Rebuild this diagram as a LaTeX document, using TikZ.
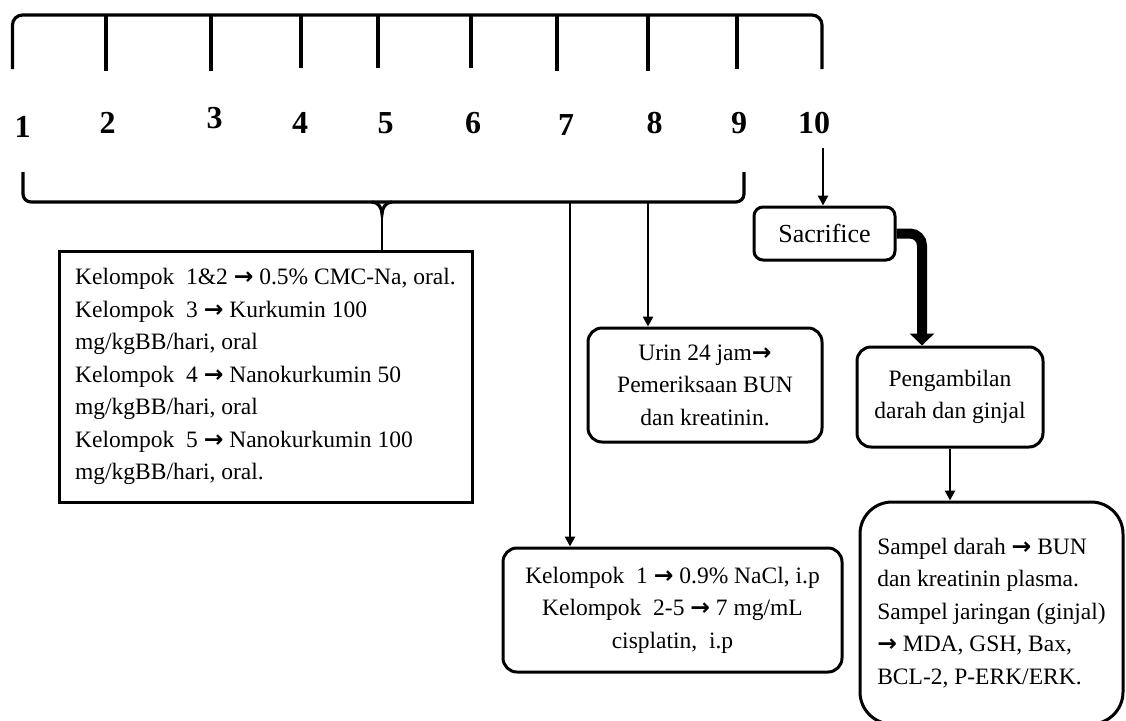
\documentclass[tikz,border=0pt]{standalone}
\usepackage{fontspec}
\setmainfont{Liberation Serif}
\newfontfamily\arrowfont{DejaVu Sans}
\newcommand\ra{{\arrowfont\bfseries →}}
\usetikzlibrary{arrows.meta}

\begin{document}
\begin{tikzpicture}[x=1pt,y=-1pt,
  txt/.style={font=\fontsize{23.5}{32.5}\selectfont},
  num/.style={font=\fontsize{32}{36}\selectfont\bfseries,anchor=base},
  box/.style={txt,draw,line width=3pt,align=left,inner sep=0pt},
  rbox/.style={box,rounded corners=14pt,align=center},
  brace/.style={line width=3.2pt},
  arr/.style={line width=2.5pt,-{Triangle[length=10pt,width=10pt]}},
  bigarr/.style={line width=10pt,rounded corners=12pt,-{Triangle[length=12pt,width=24pt]}}]
  \useasboundingbox (0,0) rectangle (1126,720);

  \draw[brace,rounded corners=10pt] (12.5,69) -- (12.5,15) -- (822,15) -- (822,69);
  \foreach \x/\y in {106/71,211/71,301/68,378/68,471/68,557/71,648/71,737/69}
    \draw[brace] (\x,15) -- (\x,\y);

  \node[num] (n1) at (22.5,137) {1};
  \node[num] (n2) at (107.5,133) {2};
  \node[num] (n3) at (214.5,128) {3};
  \node[num] (n4) at (300,133) {4};
  \node[num] (n5) at (385.5,133) {5};
  \node[num] (n6) at (473,133) {6};
  \node[num] (n7) at (566,135) {7};
  \node[num] (n8) at (654.5,133) {8};
  \node[num] (n9) at (739,133) {9};
  \node[num] (n10) at (814,133) {10};

  \draw[brace,rounded corners=8pt] (23,172) -- (23,202) -- (744,202) -- (744,172);
  \draw[brace] (372,202) to[out=0,in=90] (382,214) to[out=90,in=180] (392,202);
  \coordinate (cusp) at (382,214);
  \coordinate (b7) at (570,202);
  \coordinate (b8) at (648,202);
  \coordinate (t10) at (823,148);
  \coordinate (bx) at (922,233);

  \node[box,minimum width=413,minimum height=251] (kel) at (265.5,376.5)
    {Kelompok\ \ 1\&2 \ra\ 0.5\% CMC-Na, oral.\\
     Kelompok\ \ 3 \ra\ Kurkumin 100\\
     mg/kgBB/hari, oral\\
     Kelompok\ \ 4 \ra\ Nanokurkumin 50\\
     mg/kgBB/hari, oral\\
     Kelompok\ \ 5 \ra\ Nanokurkumin 100\\
     mg/kgBB/hari, oral.};
  \node[rbox,minimum width=234,minimum height=114] (urin) at (705,385)
    {Urin 24 jam\ra\\ Pemeriksaan BUN\\ dan kreatinin.};
  \node[rbox,minimum width=339,minimum height=124] (nacl) at (672.5,610)
    {Kelompok\ \ 1 \ra\ 0.9\% NaCl, i.p\\ Kelompok\ \ 2-5 \ra\ 7 mg/mL\\ cisplatin,\ \ i.p};
  \node[rbox,rounded corners=9pt,minimum width=141,minimum height=53,font=\fontsize{26}{30}\selectfont] (sacr) at (824.5,233.5)
    {Sacrifice};
  \node[rbox,minimum width=186,minimum height=100] (pen) at (950,397)
    {Pengambilan\\ darah dan ginjal};
  \node[box,rounded corners=32pt,minimum width=263,minimum height=222] (samp) at (991.5,613)
    {Sampel darah \ra\ BUN\\ dan kreatinin plasma.\\ Sampel jaringan (ginjal)\\ \ra\ MDA, GSH, Bax,\\ BCL-2, P-ERK/ERK.};

  \draw[line width=2.8pt] (cusp) -- (cusp |- kel.north);
  \draw[arr] (b7) -- (b7 |- nacl.north);
  \draw[arr] (b8) -- (b8 |- urin.north);
  \draw[arr] (t10) -- (t10 |- sacr.north);
  \draw[bigarr] (sacr.east) -| (bx |- pen.north);
  \draw[arr] (pen.south) -- (pen.south |- samp.north);
\end{tikzpicture}
\end{document}
